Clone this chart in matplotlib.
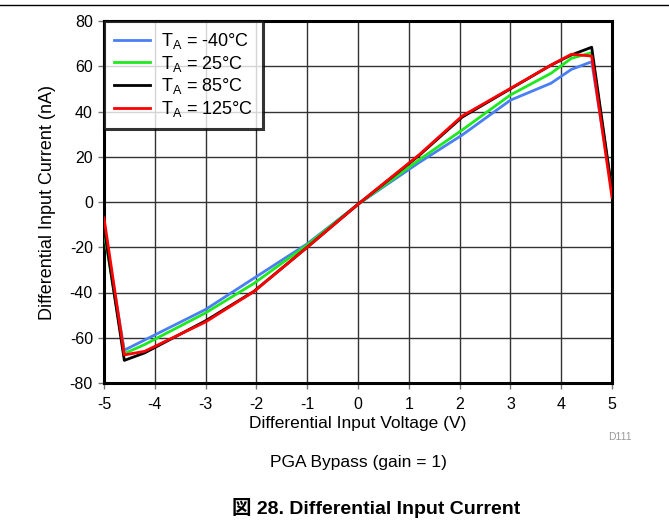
import matplotlib
matplotlib.use("Agg")
import matplotlib.pyplot as plt
from matplotlib.lines import Line2D

plt.rcParams['font.family'] = ['Liberation Sans', 'Noto Sans CJK JP', 'DejaVu Sans']
plt.rcParams['mathtext.fontset'] = 'custom'
plt.rcParams['mathtext.rm'] = 'Liberation Sans'

x_v = [-5, -4.6, -4.2, -3, -2.05, -1, 0, 1.2, 2.05, 3, 3.8, 4.2, 4.6, 5]
i_m40 = [-12, -65.5, -61, -47.5, -33.7, -18.5, -1, 17.4, 29.6, 45, 52.5, 58.6, 62, 5]
i_25 = [-13, -67, -63, -49, -36, -19, -1, 18.6, 31.8, 47.3, 56.9, 63.5, 66, 5]
i_85 = [-11, -70, -66.7, -52.5, -39.5, -20, -1, 20.5, 37.5, 50, 60.5, 65, 68.4, 5]
i_125 = [-7, -67.6, -66, -53, -39.6, -20, -1, 20.8, 38, 50.2, 60.5, 65.3, 64.5, 2]

labels = ["T$_\\mathregular{A}$ = -40°C", "T$_\\mathregular{A}$ = 25°C",
          "T$_\\mathregular{A}$ = 85°C", "T$_\\mathregular{A}$ = 125°C"]
colors = ["#4a7ef5", "#1ee81e", "#000000", "#ff0000"]
series = [i_m40, i_25, i_85, i_125]

xticks = [-5, -4, -3, -2, -1, 0, 1, 2, 3, 4, 5]
yticks = [-80, -60, -40, -20, 0, 20, 40, 60, 80]

fig = plt.figure(figsize=(6.69, 5.29), dpi=100)
ax = fig.add_axes([104/669, 1-383/529, (612-104)/669, (383-21)/529])

for ys, c, lab in zip(series, colors, labels):
    ax.plot(x_v, ys, color=c, lw=2.0, label=lab, zorder=3)

ax.set_xlim(-5, 5)
ax.set_ylim(-80, 80)
ax.set_xticks(xticks)
ax.set_yticks(yticks)
ax.set_xticklabels([str(t) for t in xticks])
ax.set_yticklabels([str(t) for t in yticks])
ax.grid(True, color='#333333', lw=1.0, zorder=1)
for s in ax.spines.values():
    s.set_linewidth(2.2)
ax.tick_params(axis='both', labelsize=11.5, length=4, width=1, color='#777777')
ax.tick_params(axis='x', pad=6)
ax.tick_params(axis='y', pad=4)
ax.set_xlabel("Differential Input Voltage (V)", fontsize=12.5, labelpad=3)
ax.set_ylabel("Differential Input Current (nA)", fontsize=13, labelpad=10)

leg = ax.legend(loc='upper left', fontsize=13, frameon=True, fancybox=False,
                borderaxespad=0, handlelength=2.0, handletextpad=0.6,
                labelspacing=0.15, borderpad=0.55)
leg.get_frame().set_edgecolor('black')
leg.get_frame().set_linewidth(2.2)
leg.set_zorder(5)

fig.add_artist(Line2D([0, 1], [1-5/529, 1-5/529], color='black', lw=1.0))
fig.text(620/669, 1-437/529, "D111", fontsize=7.5, color='#999999', ha='center', va='center')
fig.text(358/669, 1-463/529, "PGA Bypass (gain = 1)", fontsize=12.5, ha='center', va='center')
fig.text(376/669, 1-508/529, "図 28. Differential Input Current", fontsize=14,
         fontweight='bold', ha='center', va='center')

fig.savefig("out.png", dpi=100)
